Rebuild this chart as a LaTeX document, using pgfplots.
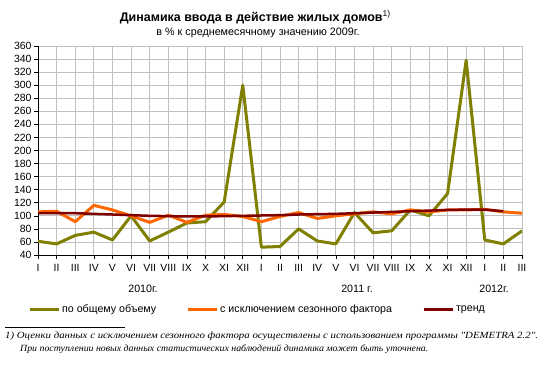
\documentclass[border=0pt]{standalone}
\usepackage{pgfplots}
\pgfplotsset{compat=1.18}
\usepackage{fontspec}
\setmainfont{Liberation Sans}
\newfontfamily\noteFont{Liberation Serif}
\definecolor{olivec}{RGB}{128,128,0}
\definecolor{orangec}{RGB}{255,102,0}
\definecolor{trendc}{RGB}{128,0,0}
\definecolor{gridc}{RGB}{192,192,192}
\begin{document}
\begin{tikzpicture}[x=1bp,y=1bp]
\path[use as bounding box] (0,0) rectangle (541,364);
\node[font=\bfseries\fontsize{12.5}{14}\selectfont] at (255,347) {Динамика ввода в действие жилых домов\raisebox{5bp}{\mdseries\fontsize{8.5}{9}\selectfont 1)}};
\node[font=\fontsize{10.8}{12}\selectfont] at (258,331) {в \% к среднемесячному значению 2009г.};
\begin{axis}[
  at={(38bp,109bp)}, anchor=south west, scale only axis,
  width=484bp, height=209bp,
  xmin=0, xmax=26, ymin=40, ymax=360,
  xtick={0,...,26},
  xticklabels={I,II,III,IV,V,VI,VII,VIII,IX,X,XI,XII,I,II,III,IV,V,VI,VII,VIII,IX,X,XI,XII,I,II,III},
  ytick={40,60,...,360},
  grid=major, major grid style={gridc, line width=0.8bp},
  axis x line*=bottom, axis y line*=left,
  axis line style={black, line width=0.8bp, -},
  tick align=outside, major tick length=4bp,
  tick style={black, line width=0.6bp},
  ticklabel style={font=\fontsize{10.5}{12}\selectfont},
  xticklabel style={yshift=-2bp},
  yticklabel style={xshift=1bp},
  /pgf/number format/assume math mode=true,
  legend columns=3,
  legend style={draw=none, fill=none, at={(-0.0269,-0.262)}, anchor=west,
    font=\fontsize{10.7}{12}\selectfont,
    /tikz/every even column/.append style={column sep=28bp}},
  legend image code/.code={\draw[#1, line width=3bp] (0bp,0bp) -- (29bp,0bp);},
  line join=round,
]
\addplot[olivec, line width=3bp] coordinates {
(0,61) (1,57) (2,70) (3,75) (4,63) (5,100) (6,61.5) (7,75) (8,89) (9,91) (10,121) (11,300)
(12,52) (13,53) (14,80) (15,61.5) (16,57) (17,105) (18,74) (19,77) (20,109) (21,100) (22,134) (23,338)
(24,63) (25,57) (26,77)};
\addlegendentry{по общему объему}
\addplot[orangec, line width=3bp] coordinates {
(0,106) (1,107) (2,91) (3,116) (4,109) (5,100) (6,90) (7,101) (8,90) (9,101) (10,102) (11,99)
(12,91) (13,99) (14,105) (15,96) (16,100) (17,103) (18,106) (19,103) (20,109) (21,106) (22,109) (23,109)
(24,110) (25,106) (26,104)};
\addlegendentry{с исключением сезонного фактора}
\addplot[trendc, line width=2.5bp] coordinates {
(0,104) (1,104) (2,104) (3,103) (4,102) (5,101) (6,100) (7,99.5) (8,99) (9,99) (10,99.5) (11,100)
(12,100.5) (13,101) (14,102) (15,102.5) (16,103) (17,104) (18,105) (19,106) (20,107) (21,108) (22,109) (23,109.5)
(24,109.5) (25,107)};
\addlegendentry{тренд}
\end{axis}
\node[font=\fontsize{10.7}{12}\selectfont] at (143,75) {2010г.};
\node[font=\fontsize{10.7}{12}\selectfont] at (357,75) {2011 г.};
\node[font=\fontsize{10.7}{12}\selectfont] at (494,75) {2012г.};
\draw[line width=0.6bp] (5,37) -- (125,37);
\node[anchor=west, inner sep=0pt, font=\noteFont\itshape\fontsize{9.5}{11}\selectfont] at (5,28) {\scalebox{1.144}[1]{1) Оценки данных с исключением сезонного фактора осуществлены с использованием программы "DEMETRA 2.2".}};
\node[anchor=west, inner sep=0pt, font=\noteFont\itshape\fontsize{9.5}{11}\selectfont] at (20,15) {\scalebox{1.04}[1]{При поступлении новых данных статистических наблюдений динамика может быть уточнена.}};
\end{tikzpicture}
\end{document}
